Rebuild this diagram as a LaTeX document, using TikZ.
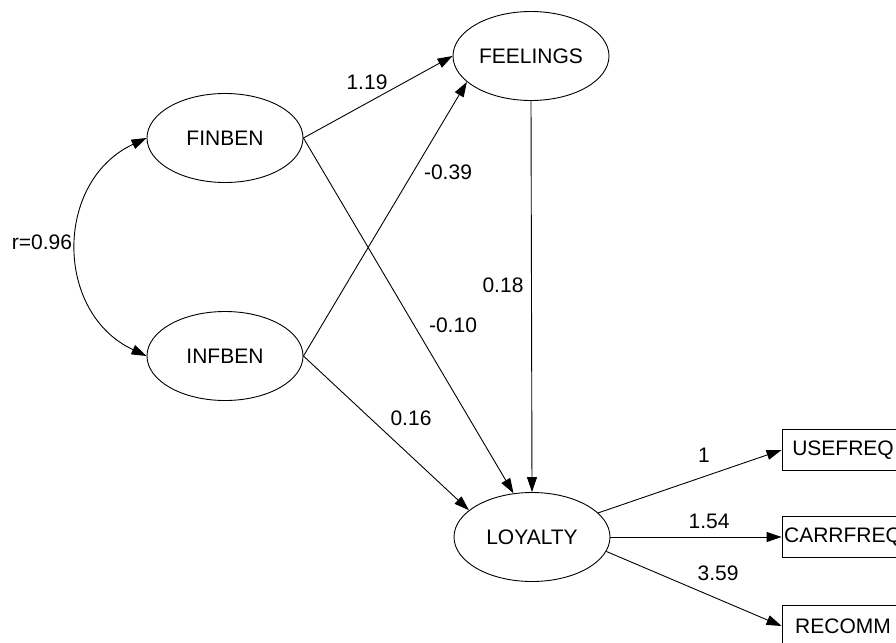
\documentclass[tikz,border=0pt]{standalone}
\usepackage{fontspec}
\setmainfont{Liberation Sans}
\usetikzlibrary{shapes.geometric,arrows.meta}
\tikzset{
  latent/.style={draw, ellipse, line width=0.9pt, minimum width=156pt, minimum height=89pt, inner sep=0pt, font=\fontsize{21}{25}\selectfont},
  observed/.style={draw, rectangle, line width=0.9pt, minimum width=122pt, minimum height=41pt, inner sep=0pt, font=\fontsize{21}{25}\selectfont},
  lbl/.style={inner sep=0pt, font=\fontsize{21}{25}\selectfont},
  arr/.style={line width=0.9pt, -{Triangle[length=15pt,width=10pt]}},
  arrboth/.style={line width=0.9pt, {Triangle[length=15pt,width=10pt]}-{Triangle[length=15pt,width=10pt]}}
}
\begin{document}
\begin{tikzpicture}[x=1pt,y=-1pt]
\useasboundingbox (0,0) rectangle (896,642);
\clip (0,0) rectangle (896,642);
\fill[white] (0,0) rectangle (896,642);
\node[latent] (FEELINGS) at (531,56) {FEELINGS};
\node[latent] (FINBEN) at (225,138) {FINBEN};
\node[latent] (INFBEN) at (225,356) {INFBEN};
\node[latent] (LOYALTY) at (532,537) {LOYALTY};
\node[observed] (USEFREQ) at (843,450) {USEFREQ};
\node[observed] (CARRFREQ) at (843,537) {CARRFREQ};
\node[observed] (RECOMM) at (843,626) {RECOMM};
\draw[arr] (FINBEN.east) -- (FEELINGS.west);
\draw[arr] (INFBEN.east) -- (FEELINGS.-158);
\draw[arr] (FINBEN.east) -- (LOYALTY.113);
\draw[arr] (INFBEN.east) -- (LOYALTY.157);
\draw[arr] (FEELINGS.south) -- (LOYALTY.north);
\draw[arr] (LOYALTY.20) -- (USEFREQ.west);
\draw[arr] (LOYALTY.east) -- (CARRFREQ.west);
\draw[arr] (LOYALTY.-11) -- (RECOMM.west);
\draw[arrboth] (FINBEN.west) to[bend right=65, looseness=1.2] (INFBEN.west);
\node[lbl] (l1) at (367,82) {1.19};
\node[lbl] (l2) at (448,172) {-0.39};
\node[lbl] (l3) at (503,285) {0.18};
\node[lbl] (l4) at (453,325) {-0.10};
\node[lbl] (l5) at (411,418) {0.16};
\node[lbl] (l6) at (704,455) {1};
\node[lbl] (l7) at (709,521) {1.54};
\node[lbl] (l8) at (718,573) {3.59};
\node[lbl] (l9) at (42,242) {r=0.96};
\end{tikzpicture}
\end{document}
